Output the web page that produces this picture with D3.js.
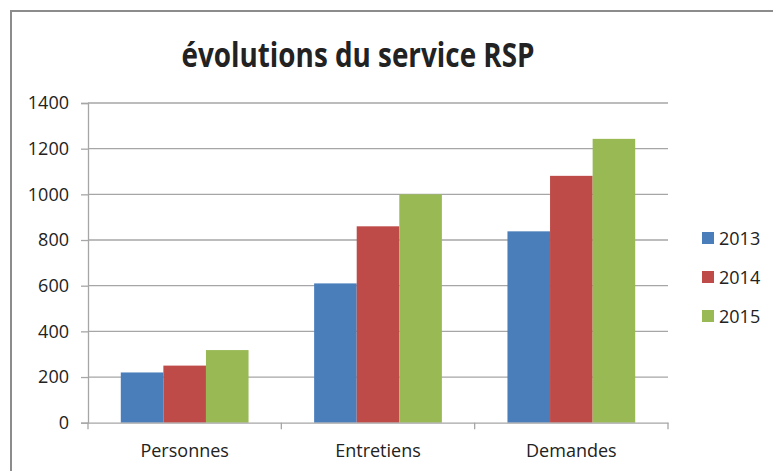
<!DOCTYPE html>
<html>
<head>
<meta charset="utf-8">
<script src="https://cdn.jsdelivr.net/npm/d3@7"></script>
<style>
  body { margin: 0; background: #fff; }
  text { font-family: "Open Sans", "Liberation Sans", sans-serif; fill: #222; }
</style>
</head>
<body>
<script>
const categories = ["Personnes", "Entretiens", "Demandes"];
const years = ["2013", "2014", "2015"];
const values2013 = [220, 610, 838];
const values2014 = [250, 860, 1081];
const values2015 = [318, 1000, 1243];
const yTicks = [0, 200, 400, 600, 800, 1000, 1200, 1400];
const colors = ["#4a7ebb", "#be4b48", "#98b954"];

function main(){
    const width = 773;
    const height = 471;

    const svg = d3.select("body").append("svg")
        .attr("width", width)
        .attr("height", height);

    // outer frame (top + left only visible)
    svg.append("path")
        .attr("d", "M11,471 V11 H773")
        .attr("fill", "none")
        .attr("stroke", "#8c8c8c")
        .attr("stroke-width", 2);

    const seriesByYear = [values2013, values2014, values2015];
    const data = categories.map((c, i) => ({
        cat: c,
        vals: years.map((y, j) => ({year: y, value: seriesByYear[j][i], color: colors[j]}))
    }));

    const left = 88, right = 668, top = 103, bottom = 422.7;

    const y = d3.scaleLinear().domain([0, 1400]).range([bottom, top]);
    const x0 = d3.scaleBand().domain(categories).range([left, right]).padding(0);
    const x1 = d3.scaleBand().domain(years).range([0, x0.bandwidth()])
        .paddingInner(0).paddingOuter(0.77);

    // gridlines
    svg.append("g")
        .selectAll("line")
        .data(yTicks.filter(d => d > 0))
        .enter().append("line")
        .attr("x1", left).attr("x2", right)
        .attr("y1", d => y(d)).attr("y2", d => y(d))
        .attr("stroke", "#a6a6a6")
        .attr("stroke-width", 1.3);

    // bars
    const groups = svg.selectAll(".cat")
        .data(data)
        .enter().append("g")
        .attr("class", "cat")
        .attr("transform", d => `translate(${x0(d.cat)},0)`);

    groups.selectAll("rect")
        .data(d => d.vals)
        .enter().append("rect")
        .attr("x", d => x1(d.year))
        .attr("width", x1.bandwidth())
        .attr("y", d => y(d.value))
        .attr("height", d => y(0) - y(d.value))
        .attr("fill", d => d.color);

    // y axis
    const yAxis = svg.append("g")
        .attr("transform", `translate(${left},0)`)
        .call(d3.axisLeft(y).tickValues(yTicks).tickFormat(d3.format("d")).tickSize(7).tickPadding(12));
    yAxis.select(".domain").attr("stroke", "#a6a6a6").attr("stroke-width", 1.3);
    yAxis.selectAll(".tick line").attr("stroke", "#a6a6a6").attr("stroke-width", 1.3);
    yAxis.selectAll(".tick text")
        .attr("font-size", 18)
        .attr("font-family", "Open Sans, sans-serif")
        .attr("fill", "#222");

    // x axis
    const xAxis = svg.append("g")
        .attr("transform", `translate(0,${bottom})`)
        .call(d3.axisBottom(x0).tickSize(0).tickPadding(22));
    xAxis.select(".domain").attr("stroke", "#a6a6a6").attr("stroke-width", 1.3);
    xAxis.selectAll(".tick text")
        .attr("font-size", 18)
        .attr("font-family", "Open Sans, sans-serif")
        .attr("fill", "#222");
    // category boundary ticks
    const bounds = categories.map(c => x0(c)).concat([right]);
    svg.append("g")
        .selectAll("line")
        .data(bounds)
        .enter().append("line")
        .attr("x1", d => d).attr("x2", d => d)
        .attr("y1", bottom).attr("y2", bottom + 6.5)
        .attr("stroke", "#a6a6a6")
        .attr("stroke-width", 1.3);

    // title
    svg.append("text")
        .attr("x", 358)
        .attr("y", 67)
        .attr("text-anchor", "middle")
        .attr("font-size", 34)
        .attr("font-weight", "bold")
        .attr("fill", "#000")
        .attr("textLength", 353)
        .attr("lengthAdjust", "spacingAndGlyphs")
        .text("évolutions du service RSP");

    // legend
    const legend = svg.append("g")
        .selectAll("g")
        .data(years)
        .enter().append("g")
        .attr("transform", (d, i) => `translate(702,${232 + i * 39})`);
    legend.append("rect")
        .attr("width", 12).attr("height", 12)
        .attr("fill", (d, i) => colors[i]);
    legend.append("text")
        .attr("x", 17)
        .attr("y", 12.5)
        .attr("font-size", 18)
        .attr("fill", "#222")
        .text(d => d);
}
main();
</script>
</body>
</html>
